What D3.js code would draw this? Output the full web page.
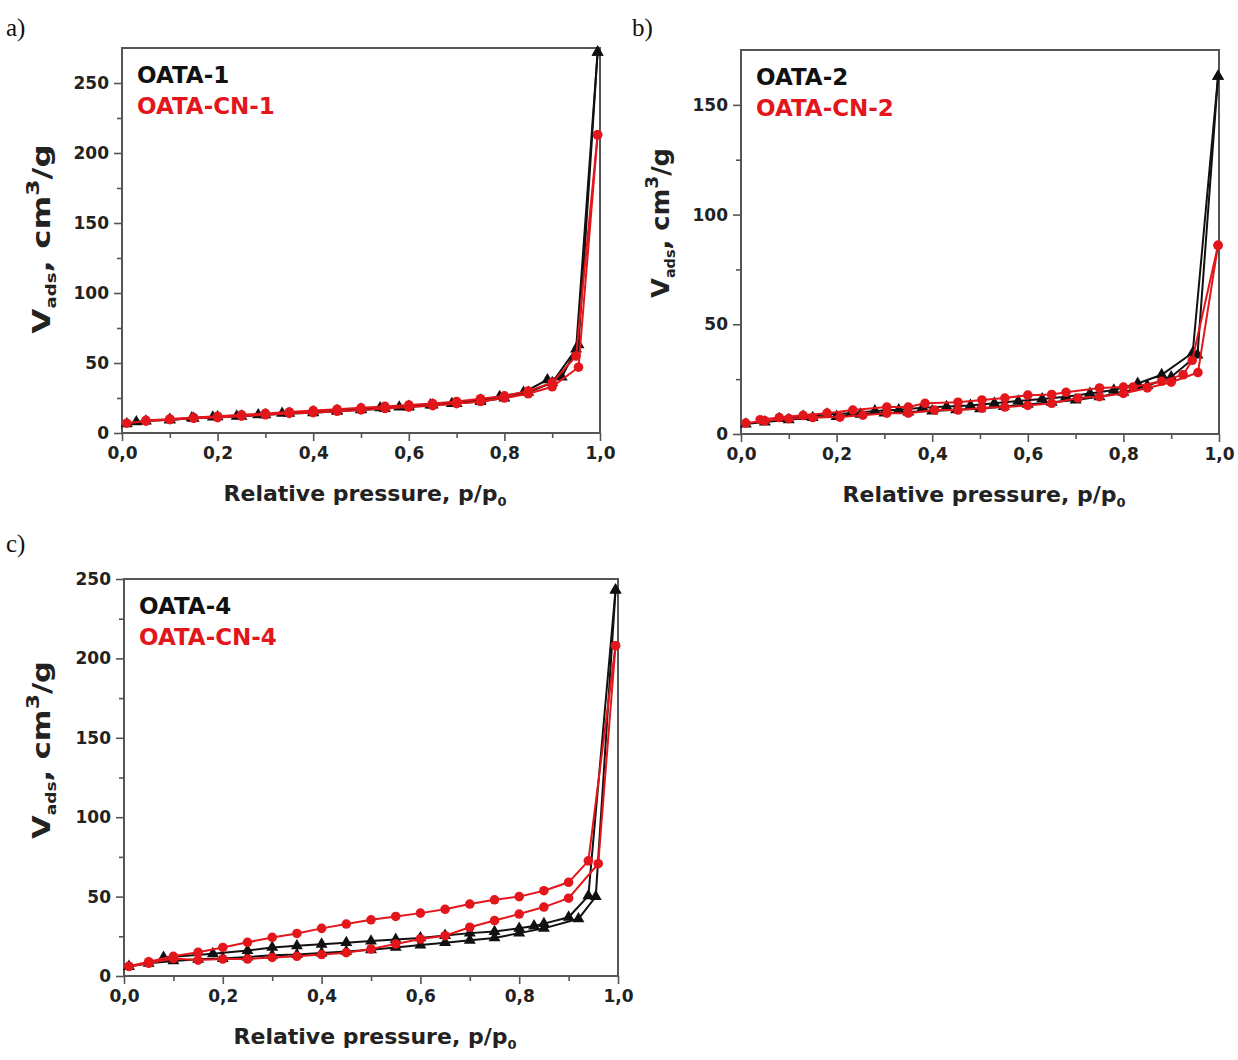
<!DOCTYPE html>
<html>
<head>
<meta charset="utf-8">
<script src="https://cdn.jsdelivr.net/npm/d3@7/dist/d3.min.js"></script>
<style>
	body { margin: 0; background: #fff; }
	svg text { font-family: "DejaVu Sans", Arial, sans-serif; font-weight: bold; }
</style>
</head>
<body>
<div id="chart"></div>
<script>
/****************************
 * N2 isotherms, three panels
 * Requirements: D3 v7
 */

// Data: [p/p0, Vads] pairs, adsorption and desorption branches
var oata1Ads = [[0.01,6.5],[0.03,8],[0.05,8.5],[0.10,9.5],[0.15,10.5],[0.20,11.5],[0.25,12],[0.30,13],[0.35,14],[0.40,14.5],[0.45,15.5],[0.50,16.5],[0.55,17.5],[0.60,18.5],[0.65,20],[0.70,21],[0.75,22.5],[0.80,25],[0.85,29],[0.90,36],[0.95,60],[0.995,272]];
var oata1Des = [[0.995,272],[0.955,63],[0.92,40],[0.89,38],[0.84,29],[0.79,26],[0.75,23.5],[0.69,21],[0.645,20],[0.60,19],[0.58,18.5],[0.54,18],[0.50,17],[0.45,16],[0.40,15],[0.335,14],[0.285,13],[0.24,12],[0.19,11.4],[0.146,10.7],[0.10,9.5]];
var oataCn1Ads = [[0.01,7],[0.05,8.5],[0.10,9.5],[0.15,10.5],[0.20,11],[0.25,12],[0.30,13],[0.35,14],[0.40,14.5],[0.45,15.5],[0.50,16.5],[0.55,17.5],[0.60,18.5],[0.65,19.5],[0.70,21],[0.75,22.5],[0.80,25],[0.85,28],[0.90,33],[0.955,47],[0.995,213]];
var oataCn1Des = [[0.995,213],[0.95,55],[0.90,36],[0.85,30],[0.80,26.5],[0.75,24.5],[0.70,22.5],[0.65,21],[0.60,20],[0.55,19],[0.50,18],[0.45,17],[0.40,16],[0.35,15],[0.30,14],[0.25,13],[0.20,12],[0.15,11],[0.10,10],[0.05,9]];

var oata2Ads = [[0.01,4.5],[0.05,5.5],[0.10,6.5],[0.15,7.5],[0.20,8],[0.25,9],[0.30,9.5],[0.35,10],[0.40,10.5],[0.45,11],[0.50,11.5],[0.55,12.5],[0.60,13.5],[0.65,14.5],[0.70,15.5],[0.75,17],[0.80,19],[0.85,22],[0.90,26],[0.955,36],[0.998,163]];
var oata2Des = [[0.998,163],[0.945,37],[0.88,27],[0.83,23],[0.78,20],[0.73,18.5],[0.68,17],[0.63,16],[0.58,15],[0.53,14],[0.48,13],[0.43,12.5],[0.38,12],[0.33,11],[0.28,10.5],[0.23,9.5],[0.18,9],[0.13,8],[0.08,7]];
var oataCn2Ads = [[0.01,5],[0.05,6],[0.10,7],[0.15,7.5],[0.207,7.7],[0.255,8.6],[0.305,9.5],[0.35,9.5],[0.405,10.9],[0.454,10.9],[0.504,11.8],[0.552,12.3],[0.60,13],[0.65,14],[0.705,16.4],[0.75,17],[0.80,18.5],[0.85,21],[0.90,23.6],[0.956,28],[0.998,86]];
var oataCn2Des = [[0.998,86],[0.944,33.6],[0.925,27],[0.88,24],[0.82,21.4],[0.80,21.4],[0.75,21],[0.68,19],[0.65,18],[0.60,17.7],[0.552,16.4],[0.504,15.5],[0.454,14.5],[0.385,14],[0.35,12.3],[0.305,12.3],[0.234,10.9],[0.18,9.5],[0.13,8.5],[0.08,7.5],[0.04,6.5]];

var oata4Ads = [[0.01,6],[0.05,8],[0.10,9.5],[0.15,10.5],[0.20,11],[0.25,12],[0.30,13],[0.35,13.5],[0.40,14.5],[0.45,15.5],[0.50,16.5],[0.55,18],[0.60,19.5],[0.65,21],[0.70,22.5],[0.75,24],[0.80,27],[0.85,30],[0.92,36],[0.955,50],[0.995,243]];
var oata4Des = [[0.995,243],[0.94,50.5],[0.90,37],[0.85,33],[0.83,31.5],[0.80,30],[0.75,28],[0.70,27],[0.65,25.5],[0.60,24],[0.55,23],[0.50,22],[0.45,21],[0.40,20],[0.35,19],[0.30,18],[0.25,16],[0.18,14],[0.08,11.7]];
var oataCn4Ads = [[0.01,6],[0.05,8],[0.10,11],[0.15,10],[0.20,10.7],[0.25,10.7],[0.30,11.7],[0.35,12.4],[0.40,13.5],[0.45,14.7],[0.50,17],[0.55,20.2],[0.60,23.3],[0.65,25.4],[0.70,30.7],[0.75,34.9],[0.80,39],[0.85,43.4],[0.90,49],[0.96,70.7],[0.995,208]];
var oataCn4Des = [[0.995,208],[0.94,72.5],[0.90,59],[0.85,53.7],[0.80,50],[0.75,48],[0.70,45.3],[0.65,42],[0.60,39.6],[0.55,37.5],[0.50,35.4],[0.45,32.7],[0.40,30],[0.35,26.8],[0.30,24.3],[0.25,21.2],[0.20,18],[0.15,14.9],[0.10,12.4],[0.05,9],[0.01,6.1]];

// Axis ticks
var pressureTicks = [0, 0.2, 0.4, 0.6, 0.8, 1.0];
var pressureMinor = [0.1, 0.3, 0.5, 0.7, 0.9];
var pressureLabels = ["0,0", "0,2", "0,4", "0,6", "0,8", "1,0"];
var volumeTicksA = [0, 50, 100, 150, 200, 250];
var volumeTicksB = [0, 50, 100, 150];
var volumeTicksC = [0, 50, 100, 150, 200, 250];

// Legend names and panel letters
var sampleNames = ["OATA-1", "OATA-2", "OATA-4"];
var modifiedNames = ["OATA-CN-1", "OATA-CN-2", "OATA-CN-4"];
var panelLetters = ["a)", "b)", "c)"];

(function(){

	var BLACK = "#111111";
	var RED = "#e3161c";
	var FRAME = "#555555";

	var svg = d3.select("#chart").append("svg")
		.attr("width", 1238)
		.attr("height", 1060);

	// Class Panel
	function Panel(cfg){
		var self = this;
		self.cfg = cfg;
		self.x = d3.scaleLinear().domain([0, 1]).range([cfg.left, cfg.right]);
		self.y = d3.scaleLinear().domain([0, cfg.yMax]).range([cfg.bottom, cfg.top]);
		self.g = svg.append("g");

		self.drawFrame();
		self.drawSeries();
		self.drawLabels();
	}

	Panel.prototype.drawFrame = function(){
		var self = this, c = self.cfg;

		var minorY = [];
		for(var v = 25; v < c.yMax; v += 50){ minorY.push(v); }

		var yAxis = d3.axisLeft(self.y).tickValues(c.yTicks).tickSize(8).tickPadding(5).tickFormat(d3.format("d"));
		var yMinor = d3.axisLeft(self.y).tickValues(minorY).tickSize(5).tickFormat("");
		var xAxis = d3.axisBottom(self.x).tickValues(pressureTicks).tickSize(8).tickPadding(6)
			.tickFormat(function(d, i){ return pressureLabels[i]; });
		var xMinor = d3.axisBottom(self.x).tickValues(pressureMinor).tickSize(5).tickFormat("");

		var axes = [
			self.g.append("g").attr("transform", "translate(" + c.left + ",0)").call(yAxis),
			self.g.append("g").attr("transform", "translate(" + c.left + ",0)").call(yMinor),
			self.g.append("g").attr("transform", "translate(0," + c.bottom + ")").call(xAxis),
			self.g.append("g").attr("transform", "translate(0," + c.bottom + ")").call(xMinor)
		];
		axes.forEach(function(a){
			a.select(".domain").remove();
			a.selectAll(".tick line").attr("stroke", FRAME).attr("stroke-width", 1.6);
			a.selectAll(".tick text").attr("fill", "#222").style("font-size", "17px");
		});

		self.g.append("rect")
			.attr("x", c.left)
			.attr("y", c.top)
			.attr("width", c.right - c.left)
			.attr("height", c.bottom - c.top)
			.attr("fill", "none")
			.attr("stroke", FRAME)
			.attr("stroke-width", 2);
	};

	Panel.prototype.drawSeries = function(){
		var self = this, c = self.cfg;
		var line = d3.line()
			.x(function(d){ return self.x(d[0]); })
			.y(function(d){ return self.y(d[1]); });

		c.series.forEach(function(s){
			self.g.append("path")
				.datum(s.data)
				.attr("d", line)
				.attr("fill", "none")
				.attr("stroke", s.color)
				.attr("stroke-width", 2);

			var marks = self.g.append("g").selectAll("path").data(s.data).enter().append("path")
				.attr("transform", function(d){ return "translate(" + self.x(d[0]) + "," + self.y(d[1]) + ")"; })
				.attr("fill", s.color);
			if(s.shape == "triangle"){
				marks.attr("d", d3.symbol().type(d3.symbolTriangle).size(62));
			}
			else{
				marks.attr("d", d3.symbol().type(d3.symbolCircle).size(72));
			}
		});
	};

	Panel.prototype.drawLabels = function(){
		var self = this, c = self.cfg;

		// Legend
		self.g.append("text").attr("x", c.left + 15).attr("y", c.top + 35)
			.attr("fill", BLACK).style("font-size", "23px").text(c.names[0]);
		self.g.append("text").attr("x", c.left + 15).attr("y", c.top + 66)
			.attr("fill", RED).style("font-size", "23px").text(c.names[1]);

		// X title
		var xt = self.g.append("text")
			.attr("x", (c.left + c.right) / 2 + 4)
			.attr("y", c.bottom + 68)
			.attr("text-anchor", "middle")
			.attr("fill", "#222")
			.style("font-size", "22px");
		xt.append("tspan").text("Relative pressure, p/p");
		xt.append("tspan").attr("dy", 5).style("font-size", "13px").text("0");

		// Y title
		var yt = self.g.append("text")
			.attr("transform", "translate(" + c.yTitleX + "," + c.yTitleY + ") rotate(-90) scale(" + c.yTitleStretch + ",1)")
			.attr("text-anchor", "middle")
			.attr("fill", "#222")
			.style("font-size", "25px");
		yt.append("tspan").text("V");
		yt.append("tspan").attr("dy", 6).style("font-size", "14px").text("ads");
		yt.append("tspan").attr("dy", -6).text(", cm");
		yt.append("tspan").attr("dy", -11).style("font-size", "18px").text("3");
		yt.append("tspan").attr("dy", 11).text("/g");

		// Panel letter
		svg.append("text")
			.attr("x", c.letterX)
			.attr("y", c.letterY)
			.style("font-family", "'Liberation Serif', 'Times New Roman', serif")
			.style("font-weight", "normal")
			.style("font-size", "25px")
			.attr("fill", "#111")
			.text(c.letter);
	};

	var panels = [
		{ left: 122, right: 600, top: 48, bottom: 433, yMax: 275, yTicks: volumeTicksA,
			yTitleX: 50, yTitleY: 239, yTitleStretch: 1.3, letterX: 6, letterY: 36,
			letter: panelLetters[0], names: [sampleNames[0], modifiedNames[0]],
			series: [
				{ data: oata1Ads, color: BLACK, shape: "triangle" },
				{ data: oata1Des, color: BLACK, shape: "triangle" },
				{ data: oataCn1Ads, color: RED, shape: "circle" },
				{ data: oataCn1Des, color: RED, shape: "circle" }
			] },
		{ left: 741, right: 1219, top: 50, bottom: 434, yMax: 175, yTicks: volumeTicksB,
			yTitleX: 669, yTitleY: 223, yTitleStretch: 1.03, letterX: 632, letterY: 36,
			letter: panelLetters[1], names: [sampleNames[1], modifiedNames[1]],
			series: [
				{ data: oata2Ads, color: BLACK, shape: "triangle" },
				{ data: oata2Des, color: BLACK, shape: "triangle" },
				{ data: oataCn2Ads, color: RED, shape: "circle" },
				{ data: oataCn2Des, color: RED, shape: "circle" }
			] },
		{ left: 124, right: 618, top: 579, bottom: 976, yMax: 250, yTicks: volumeTicksC,
			yTitleX: 50, yTitleY: 750, yTitleStretch: 1.22, letterX: 6, letterY: 552,
			letter: panelLetters[2], names: [sampleNames[2], modifiedNames[2]],
			series: [
				{ data: oata4Ads, color: BLACK, shape: "triangle" },
				{ data: oata4Des, color: BLACK, shape: "triangle" },
				{ data: oataCn4Ads, color: RED, shape: "circle" },
				{ data: oataCn4Des, color: RED, shape: "circle" }
			] }
	];

	panels.forEach(function(p){ new Panel(p); });

})();
</script>
</body>
</html>
